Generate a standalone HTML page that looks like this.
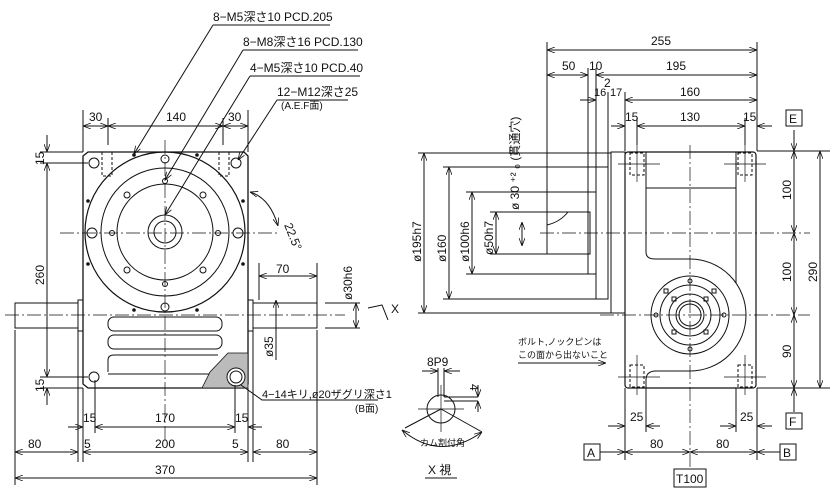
<!DOCTYPE html>
<html><head><meta charset="utf-8"><style>
html,body{margin:0;padding:0;background:#fff}
svg{display:block}
text{font-family:"Liberation Sans","Noto Sans CJK JP",sans-serif;fill:#111}
</style></head><body>
<svg width="833" height="502" viewBox="0 0 833 502" xmlns="http://www.w3.org/2000/svg">
<defs>
<marker id="a" markerWidth="8" markerHeight="6" refX="8" refY="3" orient="auto-start-reverse"><path d="M0,0 L8,3 L0,6" fill="none" stroke="#111" stroke-width="0.8"/></marker>
</defs>
<g stroke="#111" stroke-width="1" fill="none">
<!-- LEFT VIEW body -->
<path d="M88,152 L244,152 L248,156 L248,384 L244,388 L88,388 L83,384 L83,156 Z" stroke-width="1.3"/>
<circle cx="165" cy="232" r="80" stroke-width="1.2"/>
<circle cx="165" cy="232" r="64"/>
<circle cx="165" cy="232" r="48"/>
<circle cx="165" cy="232" r="17"/>
<circle cx="165" cy="232" r="11"/>
<g stroke-dasharray="14,3,2,3" stroke-width="0.7">
<line x1="60" y1="233" x2="280" y2="233"/>
<line x1="165" y1="140" x2="165" y2="440"/>
<line x1="5" y1="315" x2="345" y2="315"/>
</g>
<circle cx="94" cy="163" r="5"/><circle cx="236" cy="163" r="5"/>
<circle cx="165" cy="159" r="4"/><circle cx="165" cy="307" r="4"/>
<circle cx="92" cy="233" r="5"/><circle cx="238" cy="233" r="5"/>
<circle cx="165" cy="181" r="2.5"/><circle cx="165" cy="284" r="2.5"/>
<circle cx="112" cy="233" r="2.5"/><circle cx="218" cy="233" r="2.5"/>
<circle cx="127" cy="195" r="3"/><circle cx="203" cy="195" r="3"/>
<circle cx="127" cy="270" r="3"/><circle cx="203" cy="270" r="3"/>
<circle cx="94" cy="377" r="5"/>
<g fill="#111" stroke="none">
<circle cx="134" cy="155" r="1.8"/><circle cx="197" cy="155" r="1.8"/>
<circle cx="88" cy="201" r="1.8"/><circle cx="243" cy="201" r="1.8"/>
<circle cx="88" cy="264" r="1.8"/><circle cx="243" cy="264" r="1.8"/>
<circle cx="134" cy="310" r="1.8"/><circle cx="197" cy="310" r="1.8"/>
</g>
<rect x="102" y="152" width="10" height="24" stroke-dasharray="3,2"/>
<rect x="219" y="152" width="10" height="24" stroke-dasharray="3,2"/>
<rect x="15" y="303" width="63" height="25"/>
<rect x="78" y="300" width="5" height="31"/>
<rect x="248" y="300" width="5" height="31"/>
<rect x="253" y="303" width="64" height="25"/>
<rect x="108" y="317" width="114" height="14" rx="6"/>
<rect x="108" y="335" width="114" height="14" rx="6"/>
<path d="M108,372 L108,360 Q108,355 114,355 L218,355"/>
<line x1="108" y1="374" x2="225" y2="374"/>
<path d="M202,388 L210,372 L228,353 L248,353 L248,388 Z" fill="#bbb" stroke-width="0.8"/>
<circle cx="236" cy="377" r="9" fill="#fff"/><circle cx="236" cy="377" r="6"/>
<!-- left dims -->
<line x1="83" y1="110" x2="83" y2="152"/><line x1="248" y1="110" x2="248" y2="152"/>
<line x1="108" y1="118" x2="108" y2="145"/><line x1="223" y1="118" x2="223" y2="145"/>
<line x1="83" y1="126" x2="108" y2="126" marker-start="url(#a)" marker-end="url(#a)"/>
<line x1="108" y1="126" x2="223" y2="126" marker-start="url(#a)" marker-end="url(#a)"/>
<line x1="223" y1="126" x2="248" y2="126" marker-start="url(#a)" marker-end="url(#a)"/>
<line x1="40" y1="152" x2="83" y2="152"/><line x1="40" y1="163" x2="88" y2="163"/>
<line x1="40" y1="377" x2="88" y2="377"/><line x1="40" y1="388" x2="83" y2="388"/>
<line x1="47" y1="135" x2="47" y2="152" marker-end="url(#a)"/>
<line x1="47" y1="163" x2="47" y2="377" marker-start="url(#a)" marker-end="url(#a)"/>
<line x1="47" y1="388" x2="47" y2="405" marker-start="url(#a)"/>
<line x1="15" y1="330" x2="15" y2="485"/><line x1="317" y1="330" x2="317" y2="485"/>
<line x1="78" y1="331" x2="78" y2="462"/><line x1="83" y1="388" x2="83" y2="462"/>
<line x1="248" y1="388" x2="248" y2="462"/><line x1="253" y1="331" x2="253" y2="462"/>
<line x1="95" y1="380" x2="95" y2="433"/><line x1="235" y1="385" x2="235" y2="433"/>
<line x1="68" y1="427" x2="83" y2="427" marker-end="url(#a)"/>
<line x1="95" y1="427" x2="235" y2="427" marker-start="url(#a)" marker-end="url(#a)"/>
<line x1="248" y1="427" x2="262" y2="427" marker-start="url(#a)"/>
<line x1="15" y1="452" x2="78" y2="452" marker-start="url(#a)" marker-end="url(#a)"/>
<line x1="83" y1="452" x2="248" y2="452" marker-start="url(#a)" marker-end="url(#a)"/>
<line x1="253" y1="452" x2="317" y2="452" marker-start="url(#a)" marker-end="url(#a)"/>
<line x1="15" y1="478" x2="317" y2="478" marker-start="url(#a)" marker-end="url(#a)"/>
<line x1="259" y1="263" x2="259" y2="300"/>
<line x1="259" y1="276" x2="317" y2="276" marker-start="url(#a)" marker-end="url(#a)"/>
<line x1="317" y1="263" x2="317" y2="303"/>
<line x1="325" y1="303" x2="360" y2="303"/><line x1="325" y1="328" x2="360" y2="328"/>
<line x1="356" y1="303" x2="356" y2="328" marker-start="url(#a)" marker-end="url(#a)"/>
<line x1="276" y1="300" x2="276" y2="360" marker-start="url(#a)"/>
<path d="M368,308 L382,305 L388,320"/>
<path d="M250,192 Q270,198 278,226" marker-start="url(#a)" marker-end="url(#a)"/>
<polyline points="213,25 330,25"/><line x1="213" y1="25" x2="134" y2="154" marker-end="url(#a)"/>
<polyline points="243,50 358,50"/><line x1="243" y1="50" x2="165" y2="180" marker-end="url(#a)"/>
<polyline points="250,76 360,76"/><line x1="250" y1="76" x2="165" y2="215" marker-end="url(#a)"/>
<polyline points="277,100 348,100"/><line x1="277" y1="100" x2="238" y2="160" marker-end="url(#a)"/>
<polyline points="241,385 262,400 378,400"/>

<!-- RIGHT VIEW -->
<g stroke-dasharray="14,3,2,3" stroke-width="0.7">
<line x1="540" y1="233" x2="810" y2="233"/>
<line x1="600" y1="315" x2="810" y2="315"/>
<line x1="690" y1="145" x2="690" y2="470"/>
</g>
<rect x="547" y="212" width="43" height="42"/>
<path d="M547,225 Q560,222 568,212" />
<rect x="588" y="192" width="8" height="82"/>
<rect x="596" y="167" width="12" height="132"/>
<rect x="611" y="152" width="14" height="161"/>
<rect x="625" y="152" width="131" height="236" rx="3" stroke-width="1.2"/>
<line x1="646" y1="188" x2="736" y2="188"/>
<line x1="646" y1="152" x2="646" y2="188"/><line x1="736" y1="152" x2="736" y2="188"/>
<path d="M646,188 L646,252 Q646,259 655,259 L690,259 A56,56 0 1 1 690,371 L656,371 Q646,371 646,380 L646,388"/>
<path d="M736,188 L736,283"/>
<circle cx="690" cy="315" r="39"/>
<circle cx="690" cy="315" r="30"/>
<circle cx="690" cy="315" r="21"/>
<circle cx="690" cy="315" r="14"/>
<circle cx="690" cy="315" r="11"/>
<circle cx="690" cy="281" r="2"/><circle cx="690" cy="349" r="2"/>
<circle cx="656" cy="315" r="2"/><circle cx="724" cy="315" r="2"/>
<rect x="664" y="289" width="4" height="4"/><rect x="712" y="289" width="4" height="4"/>
<rect x="672" y="297" width="4" height="4"/><rect x="704" y="297" width="4" height="4"/>
<rect x="672" y="330" width="4" height="4"/><rect x="704" y="330" width="4" height="4"/>
<rect x="630" y="153" width="14" height="22" stroke-dasharray="3,2"/>
<rect x="738" y="153" width="14" height="22" stroke-dasharray="3,2"/>
<rect x="630" y="365" width="14" height="22" stroke-dasharray="3,2"/>
<rect x="738" y="365" width="14" height="22" stroke-dasharray="3,2"/>
<line x1="618" y1="164" x2="660" y2="164" stroke-width="0.7"/><line x1="724" y1="164" x2="766" y2="164" stroke-width="0.7"/>
<line x1="618" y1="377" x2="660" y2="377" stroke-width="0.7"/><line x1="724" y1="377" x2="766" y2="377" stroke-width="0.7"/>
<line x1="637" y1="145" x2="637" y2="182" stroke-width="0.7"/><line x1="745" y1="145" x2="745" y2="182" stroke-width="0.7"/>
<line x1="637" y1="355" x2="637" y2="395" stroke-width="0.7"/><line x1="745" y1="355" x2="745" y2="395" stroke-width="0.7"/>
<!-- right dims -->
<line x1="547" y1="42" x2="547" y2="212"/><line x1="757" y1="42" x2="757" y2="151"/>
<line x1="588" y1="68" x2="588" y2="192"/><line x1="596" y1="68" x2="596" y2="167"/>
<line x1="608" y1="92" x2="608" y2="167"/><line x1="625" y1="92" x2="625" y2="151"/>
<line x1="637" y1="118" x2="637" y2="145"/><line x1="745" y1="118" x2="745" y2="145"/>
<line x1="547" y1="50" x2="757" y2="50" marker-start="url(#a)" marker-end="url(#a)"/>
<line x1="547" y1="75" x2="588" y2="75" marker-start="url(#a)" marker-end="url(#a)"/>
<line x1="596" y1="75" x2="757" y2="75" marker-start="url(#a)" marker-end="url(#a)"/>
<line x1="580" y1="100" x2="596" y2="100" marker-end="url(#a)"/>
<line x1="625" y1="100" x2="757" y2="100" marker-start="url(#a)" marker-end="url(#a)"/>
<line x1="611" y1="126" x2="625" y2="126" marker-end="url(#a)"/>
<line x1="637" y1="126" x2="745" y2="126" marker-start="url(#a)" marker-end="url(#a)"/>
<line x1="757" y1="126" x2="772" y2="126" marker-start="url(#a)"/>
<line x1="418" y1="153" x2="611" y2="153"/><line x1="443" y1="167" x2="596" y2="167"/>
<line x1="466" y1="192" x2="588" y2="192"/><line x1="490" y1="212" x2="547" y2="212"/>
<line x1="418" y1="313" x2="611" y2="313"/><line x1="443" y1="299" x2="596" y2="299"/>
<line x1="466" y1="274" x2="588" y2="274"/><line x1="490" y1="254" x2="547" y2="254"/>
<line x1="424" y1="153" x2="424" y2="313" marker-start="url(#a)" marker-end="url(#a)"/>
<line x1="449" y1="167" x2="449" y2="299" marker-start="url(#a)" marker-end="url(#a)"/>
<line x1="472" y1="192" x2="472" y2="274" marker-start="url(#a)" marker-end="url(#a)"/>
<line x1="496" y1="212" x2="496" y2="254" marker-start="url(#a)" marker-end="url(#a)"/>
<line x1="522" y1="222" x2="522" y2="246" marker-start="url(#a)" marker-end="url(#a)"/>
<line x1="757" y1="151" x2="830" y2="151"/><line x1="757" y1="388" x2="830" y2="388"/>
<line x1="794" y1="130" x2="794" y2="151" marker-end="url(#a)"/>
<line x1="794" y1="151" x2="794" y2="233" marker-start="url(#a)" marker-end="url(#a)"/>
<line x1="794" y1="233" x2="794" y2="315" marker-start="url(#a)" marker-end="url(#a)"/>
<line x1="794" y1="315" x2="794" y2="388" marker-start="url(#a)" marker-end="url(#a)"/>
<line x1="794" y1="388" x2="794" y2="412" marker-start="url(#a)"/>
<line x1="820" y1="151" x2="820" y2="388" marker-start="url(#a)" marker-end="url(#a)"/>
<line x1="625" y1="388" x2="625" y2="460"/><line x1="757" y1="388" x2="757" y2="460"/>
<line x1="646" y1="388" x2="646" y2="432"/><line x1="736" y1="388" x2="736" y2="432"/>
<line x1="608" y1="426" x2="625" y2="426" marker-end="url(#a)"/>
<line x1="646" y1="426" x2="660" y2="426" marker-start="url(#a)"/>
<line x1="720" y1="426" x2="736" y2="426" marker-end="url(#a)"/>
<line x1="757" y1="426" x2="772" y2="426" marker-start="url(#a)"/>
<line x1="600" y1="452" x2="625" y2="452" marker-end="url(#a)"/>
<line x1="625" y1="452" x2="690" y2="452" marker-start="url(#a)" marker-end="url(#a)"/>
<line x1="690" y1="452" x2="757" y2="452" marker-start="url(#a)" marker-end="url(#a)"/>
<line x1="757" y1="452" x2="780" y2="452" marker-start="url(#a)"/>
<line x1="518" y1="363" x2="606" y2="363" marker-end="url(#a)"/>
<rect x="584" y="444" width="16" height="16"/><rect x="780" y="444" width="16" height="16"/>
<rect x="786" y="110" width="16" height="16"/><rect x="786" y="413" width="16" height="16"/>
<rect x="674" y="469" width="32" height="18"/>
<!-- X view -->
<circle cx="441" cy="409" r="14"/>
<line x1="418" y1="409" x2="464" y2="409" stroke-width="0.7"/>
<line x1="441" y1="385" x2="441" y2="432" stroke-width="0.7"/>
<line x1="438" y1="368" x2="438" y2="397"/><line x1="444" y1="368" x2="444" y2="397"/>
<line x1="422" y1="371" x2="438" y2="371" marker-end="url(#a)"/><line x1="460" y1="371" x2="444" y2="371" marker-end="url(#a)"/>
<line x1="444" y1="397" x2="478" y2="397"/><line x1="444" y1="401" x2="478" y2="401"/>
<line x1="478" y1="385" x2="478" y2="397" marker-end="url(#a)"/><line x1="478" y1="412" x2="478" y2="401" marker-end="url(#a)"/>
<line x1="441" y1="409" x2="405" y2="428"/><line x1="441" y1="409" x2="482" y2="432"/>
<path d="M402,430 Q440,462 482,432" marker-start="url(#a)" marker-end="url(#a)"/>
<line x1="425" y1="478" x2="457" y2="478"/>
</g>
<g font-size="12">
<text x="213" y="21">8−M5深さ10  PCD.205</text>
<text x="243" y="46">8−M8深さ16  PCD.130</text>
<text x="250" y="72">4−M5深さ10  PCD.40</text>
<text x="277" y="96">12−M12深さ25</text>
<text x="281" y="109" font-size="10">(A.E.F面)</text>
<text x="89" y="121">30</text><text x="166" y="121">140</text><text x="228" y="121">30</text>
<text transform="translate(44,165) rotate(-90)">15</text>
<text transform="translate(44,285) rotate(-90)">260</text>
<text transform="translate(44,392) rotate(-90)">15</text>
<text transform="translate(284,225) rotate(68)">22.5°</text>
<text x="276" y="273">70</text>
<text transform="translate(352,300) rotate(-90)">ø30h6</text>
<text transform="translate(273,357) rotate(-90)">ø35</text>
<text x="391" y="313">X</text>
<text x="262" y="398" font-size="11">4−14キリ,ø20ザグリ深さ1</text>
<text x="355" y="412" font-size="10">(B面)</text>
<text x="83" y="422">15</text><text x="155" y="422">170</text><text x="235" y="422">15</text>
<text x="28" y="448">80</text><text x="84" y="448">5</text><text x="155" y="448">200</text><text x="232" y="448">5</text><text x="276" y="448">80</text>
<text x="155" y="474">370</text>
<text x="651" y="45">255</text><text x="562" y="70">50</text><text x="589" y="70">10</text><text x="666" y="70">195</text>
<text x="604" y="87">2</text><text x="594" y="96" font-size="11">16</text><text x="610" y="96" font-size="11">17</text>
<text x="680" y="96">160</text><text x="625" y="121">15</text><text x="680" y="121">130</text><text x="743" y="121">15</text>
<text x="789" y="123">E</text><text x="789" y="426">F</text><text x="587" y="457">A</text><text x="783" y="457">B</text>
<text x="676" y="483">T100</text>
<text transform="translate(421,262) rotate(-90)">ø195h7</text>
<text transform="translate(446,262) rotate(-90)">ø160</text>
<text transform="translate(469,262) rotate(-90)">ø100h6</text>
<text transform="translate(493,255) rotate(-90)">ø50h7</text>
<text transform="translate(519,210) rotate(-90)">ø 30 ⁺² ₀ (貫通穴)</text>
<text transform="translate(791,200) rotate(-90)">100</text>
<text transform="translate(791,282) rotate(-90)">100</text>
<text transform="translate(791,358) rotate(-90)">90</text>
<text transform="translate(817,282) rotate(-90)">290</text>
<text x="630" y="421">25</text><text x="740" y="421">25</text>
<text x="650" y="448">80</text><text x="716" y="448">80</text>
<text x="518" y="345" font-size="9">ボルト,ノックピンは</text>
<text x="518" y="358" font-size="9">この面から出ないこと</text>
<text x="427" y="366">8P9</text>
<text transform="translate(470,384) rotate(90)">4</text>
<text x="420" y="446" font-size="9">カム割付角</text>
<text x="428" y="474">X  視</text>
</g>
</svg>
</body></html>
